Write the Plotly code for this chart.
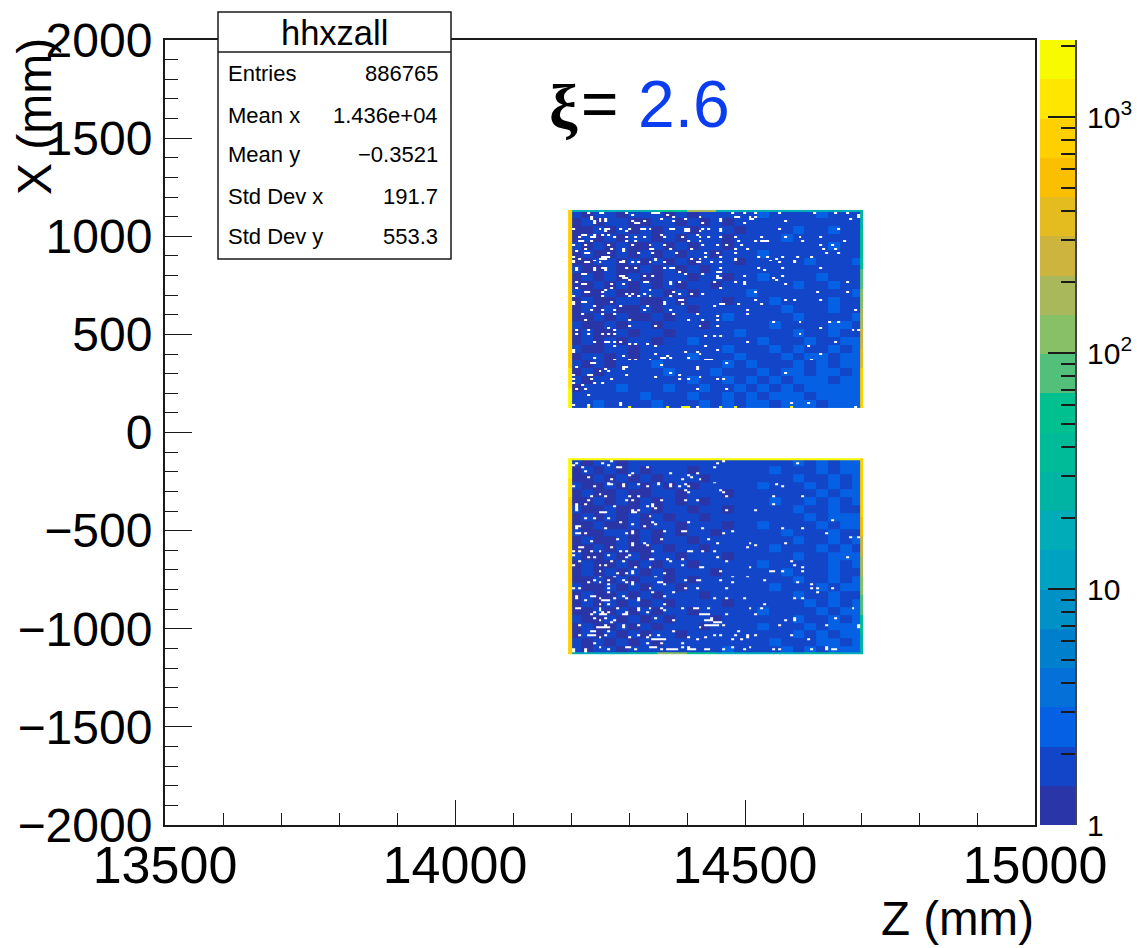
import numpy as np
import plotly.graph_objects as go

W, H = 1143, 948
# axis values
Z_RANGE = [13500, 15000]
X_RANGE = [-2000, 2000]
Z_MAX = 2120
BLOCK_Z = [14202, 14699]
EDGE_Z_LEFT = 14195
EDGE_Z_RIGHT = 14704
UPPER_X = [1134, 125]
LOWER_X = [-131, -1129]
BINS = 100

PALETTE = ["#2a35a8", "#1245c8", "#0560e4", "#0570d8", "#0080cc", "#0092c6", "#00a2c2", "#00acb8",
           "#00b4a4", "#00bb98", "#00c090", "#52c07a", "#88c068", "#a8b85a", "#ccb43f", "#e5bc20",
           "#fac000", "#ffcf00", "#ffe600", "#f8fa00"]

# hand-read body level, coarse cells of the two blocks (top row first)
UPPER_LEVEL = [
    "2122122212122222322223222", "1212211221212122222222222", "1121212122122212222322322",
    "1212122121222122223222222", "2121211212122122222222322", "1211212121221222322222222",
    "1122121212122212222232223", "2112112121212222222222222", "1212121122122122322223222",
    "1121212121221222222322322", "2112112212122223222222223", "1211221121222122232222322",
    "1212112122122222223222322", "1121211212222322222322223", "2112122122212222232222332",
    "1211212212222232222322322", "1212122122322222322232233", "2112212222222322232322323",
    "1221212222322232223233233", "2121222322222323222323233", "1212222232223222323323323",
    "2122222222322323232333233", "1222322232232232323233333", "2222223222322323233323333",
    "2232222322232323323332333"]
LOWER_LEVEL = [
    "2122122222222222222323233", "1212121222122222232223233", "1121212122212222222322323",
    "2112121212122222322232323", "1211211221222122222223233", "1121212121212222232232323",
    "2112112122122122222322322", "1212121212212222222232333", "1121121221222122322223233",
    "2112212121221222223222322", "1211212122122222222322323", "1121211212212222232223232",
    "2112121221222122222322333", "1211212122122222322222323", "1212121212221222223222322",
    "1121212212122222222322323", "2112121221222222232223233", "1211212122212222222322322",
    "1212121212222122222232323", "1121212122122222322223233", "2112121212221222222322323",
    "1211212122212222322232333", "1212121221222222222323233", "2121212122222222232223323",
    "2122122222222322223232333"]

# blocks' edge bins, read over ten stretches from top to bottom / left to right
UPPER_LEFT = [700, 700, 700, 700, 700, 750, 800, 900, 1100, 1600]
UPPER_RIGHT = [25, 50, 60, 70, 100, 150, 250, 400, 700, 900]
UPPER_TOP = [20, 20, 20, 60, 200, 20, 20, 20, 20, 20]
LOWER_LEFT = [1500, 1100, 950, 900, 900, 850, 800, 800, 800, 800]
LOWER_RIGHT = [900, 800, 700, 500, 300, 200, 120, 80, 50, 25]
LOWER_BOTTOM = [20, 20, 25, 100, 60, 20, 20, 20, 30, 20]
LOWER_TOP_VALUE = 1600
UPPER_BOTTOM_HOT = [6, 20, 33, 38, 39, 40, 51, 56, 75]
HOT_VALUE = 1600

# bins with no entries: row -> columns
UPPER_EMPTY = {
    1: [6, 10, 11, 19, 28, 29, 30, 55, 59, 63, 71, 83, 90, 94], 2: [21, 33, 98],
    3: [7, 35, 44, 56, 57, 61, 63, 98], 4: [7, 10, 12, 31, 39, 51, 61, 62, 95],
    5: [8, 10, 12, 21, 25, 35, 51, 73], 6: [8, 22, 23, 45, 59],
    9: [1, 10, 12, 13, 17, 20, 24, 25, 27, 34, 35, 39, 40, 45, 47, 51, 71, 91],
    10: [12, 19, 39, 40, 44, 51], 12: [4, 5, 8, 11, 13, 31, 43],
    13: [3, 7, 8, 15, 19, 22, 25, 32, 38, 44, 47, 51, 56, 65, 73, 78, 85],
    15: [3, 4, 7, 19, 22, 40, 44, 57, 63, 65, 66, 67, 79, 93],
    17: [1, 5, 13, 21, 27, 32, 45, 50, 53, 58, 85, 89],
    19: [5, 14, 18, 27, 28, 34, 41, 56, 60, 86, 90], 20: [2, 18],
    21: [5, 6, 13, 23, 28, 36, 46, 50, 56, 87, 91],
    23: [1, 11, 12, 13, 46, 51, 64, 67, 72, 77, 82],
    24: [3, 10, 11, 12, 29, 41, 44, 56, 70], 25: [1, 8, 18, 29, 56, 68, 76],
    26: [1, 5, 6, 10, 17, 18, 21, 23, 27, 32, 43, 44, 48, 51, 71, 76],
    29: [2, 8, 11, 12, 19, 22, 32, 34, 35, 51, 64, 72, 85], 30: [2, 8, 12, 66],
    31: [37, 50, 51], 32: [4, 5, 39, 45], 33: [17, 18, 25, 28, 50, 59, 72],
    34: [18, 19, 50, 51, 69], 35: [20, 70],
    36: [2, 25, 26, 34, 37, 49, 56, 59, 94], 37: [4, 5, 14, 18, 34, 59, 73],
    39: [2, 14, 51], 40: [12, 27], 41: [5, 6, 11, 35, 63, 84, 94],
    42: [19, 21, 25, 37, 41, 45], 43: [1, 11, 20, 23, 27, 34],
    45: [37, 38, 63, 73, 76, 85], 46: [1, 4, 5, 14, 32],
    47: [1, 32, 38, 51, 52, 57, 65], 48: [8, 17, 26, 49],
    50: [7, 11, 15, 25, 34, 60, 97], 52: [4, 11, 15, 35, 43, 60], 53: [50],
    55: [5, 20, 40, 45, 50], 56: [69, 78, 88, 91], 58: [20, 29, 44, 50],
    59: [13, 85], 60: [2, 6, 15, 96, 98], 62: [2, 6, 11, 13, 15, 78],
    63: [46, 49, 51], 66: [8, 12, 13, 15, 17, 60, 90], 67: [20, 22, 26],
    68: [15, 29, 46, 81], 70: [1, 50], 71: [1, 39, 43], 72: [29, 44, 85],
    73: [18, 33], 74: [8, 31, 32, 34, 40], 75: [15, 20, 22, 27, 46, 47, 48, 82],
    77: [7, 8, 53], 78: [31], 79: [2, 18, 19, 43], 80: [12, 18, 43], 81: [10, 13],
    82: [34, 73], 83: [1, 6, 7, 19, 37], 84: [29, 44], 85: [1, 7, 14, 37, 40, 50, 52],
    87: [1, 8, 11], 88: [4], 90: [2, 5, 43, 53], 93: [6], 97: [17, 75, 81],
    98: [1, 6, 17], 99: [43, 97],
}
LOWER_EMPTY = {
    1: [14, 52], 2: [2, 11, 50, 77], 3: [1, 13], 4: [4, 16, 17, 26, 49], 6: [5],
    7: [21, 34, 43], 8: [20, 40], 9: [6, 41], 10: [14, 38, 44], 12: [13, 30, 49],
    13: [13, 14, 18, 23, 30, 34, 39, 70], 14: [1, 8, 18, 26, 34, 37, 40, 72],
    16: [39, 51], 17: [40, 52], 18: [10], 19: [7, 12, 20, 23, 53, 69, 79],
    21: [6, 19, 21, 31, 39, 43], 23: [2, 5, 28, 69], 24: [2, 15, 26, 28], 25: [2, 29],
    26: [2, 21, 23, 53, 63], 27: [10, 11, 12, 21, 22], 29: [27], 30: [5, 8, 13],
    31: [89], 32: [17, 28, 40], 33: [21, 29], 34: [2, 3, 25], 35: [2, 12, 45, 72, 79],
    37: [21, 32, 38, 39, 55], 38: [2, 3, 5, 19, 21, 52, 87], 40: [95, 98],
    41: [16, 31, 47], 42: [7], 43: [21, 25, 50, 61, 73], 44: [21, 26, 63],
    45: [3, 4, 14, 60], 47: [1, 3, 7, 10, 17, 19, 28, 40, 41, 45, 49], 49: [1, 13, 20],
    50: [6, 8, 19, 50, 94], 51: [27, 28, 33, 38], 52: [3, 14, 18, 34, 53, 75],
    54: [1, 10, 12, 38, 76], 55: [22, 27, 44, 45, 61, 79],
    57: [10, 21, 51, 68, 69, 72, 79], 58: [16, 19, 21, 32],
    60: [10, 15, 29, 55, 60], 62: [8, 13, 18, 39, 43, 44, 51, 66],
    63: [6, 10, 19, 21, 30, 31, 55, 77], 64: [13, 21, 32, 82],
    66: [1, 3, 13, 27, 39, 43, 53, 82, 84, 89], 68: [13, 28, 35, 84],
    70: [2, 7, 8, 18, 32], 71: [2, 10, 15, 19, 23, 49, 53, 59, 76, 79],
    72: [5, 11, 12, 13, 23], 74: [10, 13, 32, 66],
    76: [2, 3, 10, 16, 23, 27, 31, 38, 42, 43, 47, 61, 65, 96], 77: [10, 23, 32],
    78: [8, 11, 13, 19, 26], 79: [7, 10, 11, 12, 18, 19, 44, 45, 46, 47, 53, 63],
    81: [8, 12, 29, 48, 76, 90], 82: [10, 15, 35, 46, 47, 48, 73, 76],
    83: [14, 49, 50, 51], 85: [3, 12, 18, 23, 46, 47, 48, 49, 50, 52, 71, 87, 98],
    86: [9, 10, 11, 12, 13, 18, 44, 98], 88: [7, 8, 13, 35, 57],
    90: [3, 6, 7, 8, 12, 23, 27, 30, 49, 51, 56, 60, 63, 75],
    91: [10, 20, 26, 40, 46, 60], 92: [28, 29, 30, 31, 32, 43, 55, 58, 81],
    94: [8, 26, 31, 38], 96: [10, 19, 20, 27, 28, 29, 38, 40, 55, 61, 87],
    97: [1, 5, 13, 22, 31, 33, 34, 35, 36, 40, 41, 42, 46, 47, 52, 59, 69, 71, 82, 87, 89, 90],
    98: [1, 5],
}
STATS = [("Entries", "886765"), ("Mean x", "1.436e+04"), ("Mean y", "\u22120.3521"),
         ("Std Dev x", "191.7"), ("Std Dev y", "553.3")]
CBAR_TICKS = [1, 10, 100, 1000]
CBAR_LABELS = ["1", "10", "10<sup>2</sup>", "10<sup>3</sup>"]
CBAR_MINOR = [2, 3, 4, 5, 6, 7, 8, 9, 20, 30, 40, 50, 60, 70, 80, 90, 200, 300, 400, 500, 600, 700, 800, 900, 2000]


def px(x):
    return x / W


def py(y):
    return 1 - y / H


def stretch(values, n=BINS):
    return np.repeat(np.array(values, dtype=float), n // len(values))


def block(level, empty):
    arr = np.array([[int(c) for c in row] for row in level], dtype=float)
    scale = BINS // len(level)
    grid = np.repeat(np.repeat(arr, scale, axis=0), scale, axis=1)
    for row, cols in empty.items():
        grid[row, cols] = np.nan
    return grid


upper = block(UPPER_LEVEL, UPPER_EMPTY)
upper[0, :] = stretch(UPPER_TOP)
upper[:, 0] = stretch(UPPER_LEFT)
upper[:, -1] = stretch(UPPER_RIGHT)
upper[-1, UPPER_BOTTOM_HOT] = HOT_VALUE

lower = block(LOWER_LEVEL, LOWER_EMPTY)
lower[0, :] = LOWER_TOP_VALUE
lower[-1, :] = stretch(LOWER_BOTTOM)
lower[:, 0] = stretch(LOWER_LEFT)
lower[:, -1] = stretch(LOWER_RIGHT)

n_col = len(PALETTE)
colorscale = []
for i, c in enumerate(PALETTE):
    colorscale += [[i / n_col, c], [(i + 1) / n_col, c]]
log_max = float(np.log10(Z_MAX))

z_edges = np.r_[EDGE_Z_LEFT, np.linspace(BLOCK_Z[0], BLOCK_Z[1], BINS - 1), EDGE_Z_RIGHT]

fig = go.Figure()
for grid, xr in ((upper, UPPER_X), (lower, LOWER_X)):
    fig.add_trace(go.Heatmap(
        z=np.log10(grid),
        x=z_edges,
        y=np.linspace(xr[0], xr[1], BINS + 1),
        coloraxis="coloraxis", hoverongaps=False,
    ))

band_edges = 10 ** np.linspace(0, log_max, n_col + 1)
band_values = (np.arange(n_col) + 0.5) * log_max / n_col
fig.add_trace(go.Heatmap(
    z=band_values[:, None], x=[0, 1], y=band_edges,
    coloraxis="coloraxis", xaxis="x2", yaxis="y2", hoverinfo="skip",
))

INK = "#1a1a1a"
shapes = [
    dict(type="rect", xref="paper", yref="paper", x0=px(218), x1=px(451), y0=py(259), y1=py(12),
         fillcolor="white", line=dict(color=INK, width=1.5), layer="above"),
    dict(type="line", xref="paper", yref="paper", x0=px(218), x1=px(451), y0=py(52), y1=py(52),
         line=dict(color=INK, width=1.5), layer="above"),
]
FONT = "Liberation Sans"


def note(text, x, y, size, anchor="left", color="black", family=FONT, angle=0):
    return dict(text=text, xref="paper", yref="paper", x=px(x), y=py(y), xanchor=anchor, yanchor="middle",
                showarrow=False, textangle=angle, font=dict(family=family, size=size, color=color))


annotations = [
    note("hhxzall", 334, 33, 34.5, "center"),
    note("Z (mm)", 1036, 918, 47.5, "right"),
    note("X (mm)", 35, 117, 48, "center", angle=-90),
    note("<b>\u03be</b>", 547, 107, 64, family="Liberation Serif"),
    note("=", 579, 104, 64),
    note("2.6", 636, 104, 66, color="#0b3df0"),
]
for i, ((name, val), y) in enumerate(zip(STATS, [73, 115, 154, 197, 236])):
    annotations.append(note(name, 226, y, 22))
    annotations.append(note(val, 440, y, 22, "right"))

fig.update_layout(
    width=W, height=H, margin=dict(l=0, r=0, t=0, b=0), paper_bgcolor="white", plot_bgcolor="white",
    showlegend=False, shapes=shapes, annotations=annotations,
    font=dict(family=FONT, color="black"),
    coloraxis=dict(colorscale=colorscale, cmin=0, cmax=log_max, showscale=False),
    xaxis=dict(domain=[px(165), px(1035)], range=Z_RANGE, tickvals=[13500, 14000, 14500, 15000],
               ticktext=["13500", "14000", "14500", "15000"], automargin=False,
               ticks="inside", ticklen=25, tickwidth=1.3, tickcolor=INK,
               minor=dict(dtick=100, ticks="inside", ticklen=12, tickwidth=1.3, tickcolor=INK, showgrid=False),
               showline=True, mirror=True, linecolor=INK, linewidth=2, showgrid=False, zeroline=False,
               tickfont=dict(size=52), ticklabelstandoff=-6, anchor="y"),
    yaxis=dict(domain=[py(825), py(40)], range=X_RANGE, dtick=500, tick0=0, automargin=False,
               ticks="inside", ticklen=27, tickwidth=1.3, tickcolor=INK,
               minor=dict(dtick=100, ticks="inside", ticklen=13, tickwidth=1.3, tickcolor=INK, showgrid=False),
               showline=True, mirror=True, linecolor=INK, linewidth=2, showgrid=False, zeroline=False,
               tickfont=dict(size=48), ticklabelstandoff=1, anchor="x"),
    xaxis2=dict(domain=[px(1040), px(1075)], range=[0, 1], visible=False, anchor="y2", automargin=False),
    yaxis2=dict(domain=[py(825), py(40)], type="log", range=[0, log_max], side="right", anchor="x2", automargin=False,
                tickmode="array", tickvals=CBAR_TICKS, ticktext=CBAR_LABELS,
                ticks="inside", ticklen=27, tickwidth=1.5, tickcolor=INK,
                minor=dict(tickmode="array", tickvals=CBAR_MINOR, ticks="inside", ticklen=14,
                           tickwidth=1.5, tickcolor=INK, showgrid=False),
                showline=True, linecolor="#444444", linewidth=2, showgrid=False, zeroline=False,
                tickfont=dict(size=30), ticklabelstandoff=4),
)

fig.write_html("out.html", post_script="document.body.style.margin='0';", config=dict(displayModeBar=False))
